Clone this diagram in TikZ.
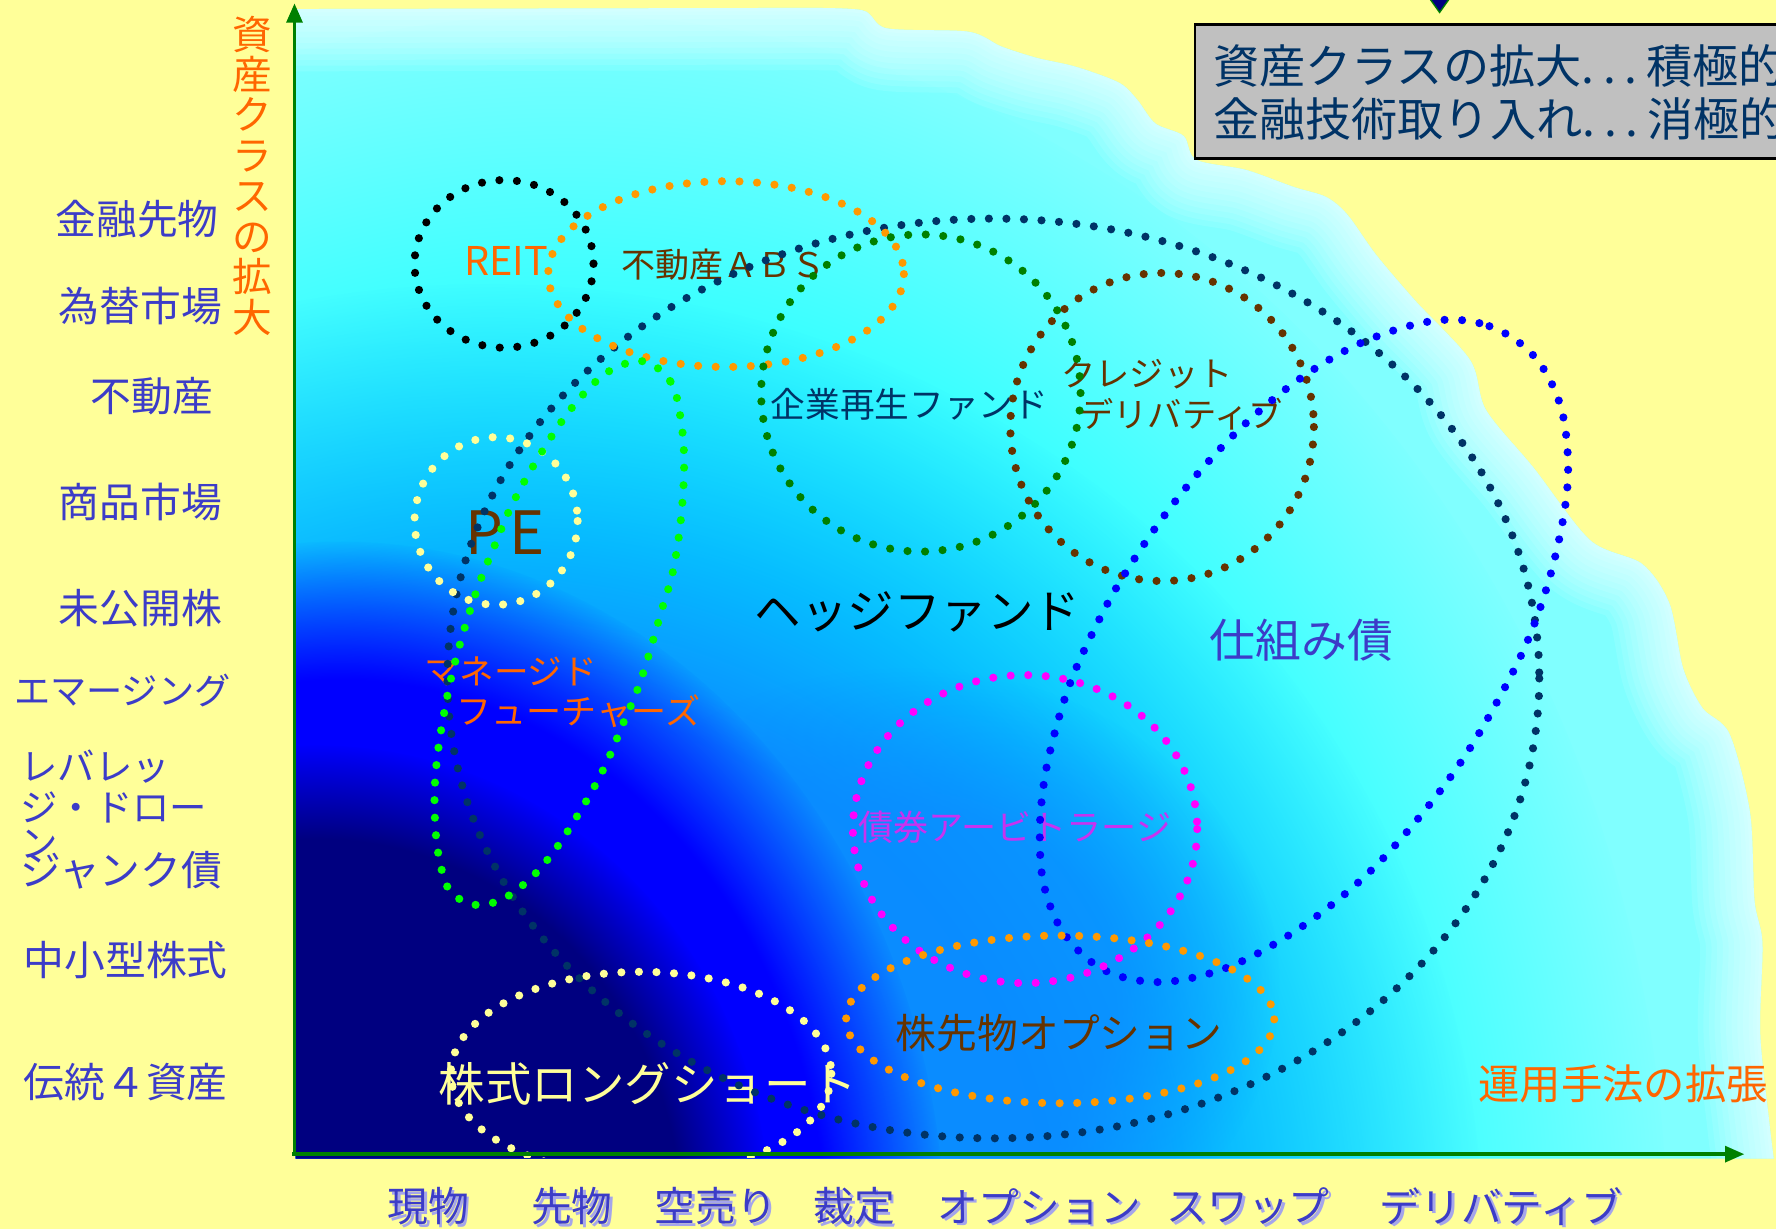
\documentclass[tikz,border=0pt]{standalone}
\usepackage{fontspec}
\setmainfont{Noto Sans CJK JP}
\usetikzlibrary{arrows.meta,fadings}
\pgfdeclareradialshading{softdiscshade}{\pgfpointorigin}{color(0bp)=(pgftransparent!0); color(14bp)=(pgftransparent!0); color(25bp)=(pgftransparent!100); color(50bp)=(pgftransparent!100)}
\pgfdeclarefading{softdisc}{\pgfuseshading{softdiscshade}}
\pgfdeclareradialshading{firmdiscshade}{\pgfpointorigin}{color(0bp)=(pgftransparent!0); color(20bp)=(pgftransparent!0); color(25bp)=(pgftransparent!100); color(50bp)=(pgftransparent!100)}
\pgfdeclarefading{firmdisc}{\pgfuseshading{firmdiscshade}}
\definecolor{bgyellow}{RGB}{255,255,153}
\definecolor{navyc}{RGB}{0,0,128}
\definecolor{bluec}{RGB}{0,0,255}
\definecolor{azurec}{RGB}{10,140,255}
\definecolor{cyanc}{RGB}{0,255,255}
\definecolor{lcyan}{RGB}{128,255,255}
\definecolor{axisgreen}{RGB}{0,128,0}
\definecolor{lblblue}{RGB}{60,60,200}
\definecolor{lblshadow}{RGB}{165,165,235}
\definecolor{orangetxt}{RGB}{255,102,0}
\definecolor{browntxt}{RGB}{102,51,0}
\definecolor{navytxt}{RGB}{0,51,102}
\definecolor{dotorange}{RGB}{255,153,0}
\definecolor{dotgreen}{RGB}{0,128,0}
\definecolor{dotlime}{RGB}{0,255,0}
\definecolor{dotmagenta}{RGB}{255,0,255}
\definecolor{arbviolet}{RGB}{200,50,240}
\definecolor{boxgray}{RGB}{192,192,192}
\tikzset{
  dotline/.style={line width=0.72mm, dash pattern=on 0mm off 1.55mm, line cap=round},
  txt/.style={inner sep=0pt, outer sep=0pt},
  sideLbl/.style={txt, text=lblblue, font=\fontsize{10.24pt}{12pt}\selectfont},
  sideShadow/.style={txt, text=lblshadow, font=\fontsize{10.24pt}{12pt}\selectfont},
  axisline/.style={draw=axisgreen, line width=0.3mm, -{Triangle[length=1.7mm,width=1.4mm]}},
  fringe/.style={draw=white, line join=round},
}
\begin{document}
\begin{tikzpicture}[x=0.1mm,y=-0.1mm]
\useasboundingbox (0,0) rectangle (1568,1085);
\fill[bgyellow] (-5,-5) rectangle (1573,1090);
% ---------- chart background ----------
\begin{scope}
\clip (261,8) -- (700,7) -- plot[smooth,tension=0.5] coordinates {(700,7) (761,9) (783,25) (855,28) (884,41) (915,51) (950,59) (988,73) (1004,88) (1020,109) (1045,120) (1056,141) (1100,150) (1142,165) (1171,174) (1190,190) (1215,225) (1250,266) (1298,318) (1312,362) (1354,413) (1404,477) (1450,498) (1474,533) (1486,590) (1503,625) (1527,648) (1545,717) (1549,795) (1556,833) (1554,912) (1562,990) (1566,1023)} -- (261,1023) -- cycle;
\fill[lcyan] (0,0) rectangle (1568,1085);
\fill[cyanc, path fading=softdisc] (500,1100) ellipse [x radius=975, y radius=1090];
\fill[azurec, path fading=softdisc] (430,1100) ellipse [x radius=880, y radius=850];
\fill[azurec, path fading=softdisc, opacity=0.75] (800,870) ellipse [x radius=330, y radius=280];
\fill[bluec, path fading=firmdisc] (300,1100) ellipse [x radius=535, y radius=622];
\fill[navyc, path fading=firmdisc] (280,1080) ellipse [x radius=400, y radius=422];
\foreach \w in {11,10,9,8,7,6,5,4,3,2,1.2,0.6}{
  \draw[fringe, line width=\w mm, opacity=0.09] (261,8) -- (700,7) -- plot[smooth,tension=0.5] coordinates {(700,7) (761,9) (783,25) (855,28) (884,41) (915,51) (950,59) (988,73) (1004,88) (1020,109) (1045,120) (1056,141) (1100,150) (1142,165) (1171,174) (1190,190) (1215,225) (1250,266) (1298,318) (1312,362) (1354,413) (1404,477) (1450,498) (1474,533) (1486,590) (1503,625) (1527,648) (1545,717) (1549,795) (1556,833) (1554,912) (1562,990) (1566,1023)};
}
\end{scope}
% ---------- texts inside chart ----------
\node[txt, text=orangetxt, font=\fontsize{9.96pt}{12pt}\selectfont] (reit) at (447,230) {REIT};
\node[txt, text=browntxt, font=\fontsize{8.54pt}{10pt}\selectfont] (abs) at (639,234) {不動産ＡＢＳ};
\node[txt, text=navytxt, font=\fontsize{8.7pt}{10pt}\selectfont] (kigyo) at (803,357) {企業再生ファンド};
\node[txt, anchor=west, text=browntxt, font=\fontsize{8.6pt}{10pt}\selectfont] (cred1) at (937,330) {クレジット};
\node[txt, anchor=west, text=browntxt, font=\fontsize{8.6pt}{10pt}\selectfont] (cred2) at (953,366) {デリバティブ};
\node[txt, text=browntxt, font=\fontsize{15pt}{17pt}\selectfont] (pe) at (446,470) {P\kern.1em E};
\node[txt, text=black, font=\fontsize{11.67pt}{13pt}\selectfont] (hedge) at (810,540) {ヘッジファンド};
\node[txt, text=lblblue, font=\fontsize{11.5pt}{13pt}\selectfont] (shikumi) at (1149,565) {仕組み債};
\node[txt, anchor=west, text=orangetxt, font=\fontsize{8.7pt}{10pt}\selectfont] (mf1) at (375,593) {マネージド};
\node[txt, anchor=west, text=orangetxt, font=\fontsize{8.82pt}{10pt}\selectfont] (mf2) at (403,628) {フューチャーズ};
\node[txt, text=arbviolet, font=\fontsize{8.82pt}{10pt}\selectfont] (arb) at (896,730) {債券アービトラージ};
\node[txt, text=browntxt, font=\fontsize{10.24pt}{12pt}\selectfont] (kabu) at (935,912) {株先物オプション};
\node[txt, text=bgyellow, font=\fontsize{11.67pt}{13pt}\selectfont] (longshort) at (572,957) {株式ロングショート};
\node[txt, text=orangetxt, font=\fontsize{10.38pt}{12pt}\selectfont] (unyo) at (1433,957) {運用手法の拡張};
% ---------- dotted groups ----------
\begin{scope}
\clip (261,0) rectangle (1568,1022);
\draw[dotline, navytxt] (877,599) ellipse [x radius=482, y radius=406];
\draw[dotline, black] (445,233) ellipse [x radius=79, y radius=74];
\draw[dotline, dotorange] (641,242) ellipse [x radius=157, y radius=82];
\draw[dotline, dotgreen] (813,347) ellipse [x radius=141, y radius=140];
\draw[dotline, browntxt] (1026,377) ellipse [x radius=134, y radius=136];
\draw[dotline, bgyellow] (438,460) ellipse [x radius=72, y radius=74];
\draw[dotline, dotlime] plot[smooth cycle, tension=0.6] coordinates {(568,319) (592,337) (601,370) (604,410) (601,460) (594,505) (585,536) (572,581) (562,611) (550,639) (538,668) (524,696) (508,723) (491,749) (471,773) (447,792) (425,799) (408,795) (395,783) (387,754) (384,723) (384,692) (387,661) (392,630) (398,600) (406,569) (415,539) (425,510) (437,481) (449,452) (463,425) (479,398) (496,372) (516,347) (539,327)};
\draw[dotline, bluec] plot[smooth cycle, tension=0.6] coordinates {(1268,283) (1315,288) (1353,313) (1376,353) (1384,399) (1382,446) (1369,507) (1349,565) (1321,621) (1289,674) (1251,724) (1209,770) (1161,810) (1110,842) (1066,860) (1019,867) (974,856) (940,825) (922,783) (918,736) (922,689) (932,644) (946,600) (965,558) (988,515) (1023,462) (1062,413) (1105,369) (1154,330) (1208,300)};
\draw[dotline, dotmagenta] (905,732) ellipse [x radius=152, y radius=136];
\draw[dotline, dotorange] (936,900) ellipse [x radius=189, y radius=74];
\draw[dotline, bgyellow] (566,948) ellipse [x radius=168, y radius=90];
\end{scope}
% ---------- axes ----------
\coordinate (org) at (260,1021);
\coordinate (ytip) at (260,3);
\coordinate (xorg) at (258,1019);
\coordinate (xtip) at (1540,1019);
\draw[axisline] (org) -- (ytip);
\draw[axisline] (xorg) -- (xtip);
\node[txt, align=center, text=orangetxt, font=\fontsize{9.96pt}{10.16pt}\selectfont] (ylabel) at (223,155) {資\\産\\ク\\ラ\\ス\\の\\拡\\大};
% ---------- left labels ----------
\node[sideLbl] (y1) at (121,193) {金融先物};
\node[sideLbl] (y2) at (124,270) {為替市場};
\node[sideLbl] (y3) at (134,350) {不動産};
\node[sideLbl] (y4) at (124,443) {商品市場};
\node[sideLbl] (y5) at (124,537) {未公開株};
\node[sideLbl, font=\fontsize{9.1pt}{11pt}\selectfont] (y6) at (108,610) {エマージング};
\node[sideLbl, anchor=west, font=\fontsize{9.39pt}{11pt}\selectfont] (y7a) at (18,677) {レバレッ};
\node[sideLbl, anchor=west, font=\fontsize{9.39pt}{11pt}\selectfont] (y7b) at (18,713) {ジ・ドロー};
\node[sideLbl, anchor=west, font=\fontsize{9.39pt}{11pt}\selectfont] (y7c) at (18,745) {ン};
\node[sideLbl, anchor=west] (y8) at (18,768) {ジャンク債};
\node[sideLbl] (y9) at (111,848) {中小型株式};
\node[sideLbl] (y10) at (111,955) {伝統４資産};
% ---------- bottom labels ----------
\foreach \nm/\xx/\tt in {x1/378/現物, x2/505/先物, x3/632/空売り, x4/754/裁定, x5/918/オプション, x6/1102/スワップ, x7/1325/デリバティブ}{
  \node[sideShadow] (\nm s) at (\xx+2.5,1067.5) {\tt};
  \node[sideLbl] (\nm) at (\xx,1065) {\tt};
}
% ---------- top-right box ----------
\fill[navyc, draw=axisgreen, line width=0.12mm] (1261,-3) -- (1281,-3) -- (1271,11) -- cycle;
\draw[black, line width=0.25mm, fill=boxgray] (1055,22) rectangle (1600,140);
\node[txt, anchor=west, text=navytxt, font=\fontsize{11.6pt}{13pt}\selectfont] (box1) at (1071,58) {資産クラスの拡大.\kern.19em.\kern.19em.\kern.19em積極的};
\node[txt, anchor=west, text=navytxt, font=\fontsize{11.6pt}{13pt}\selectfont] (box2) at (1071,105) {金融技術取り入れ.\kern.19em.\kern.19em.\kern.19em消極的};
\end{tikzpicture}
\end{document}
